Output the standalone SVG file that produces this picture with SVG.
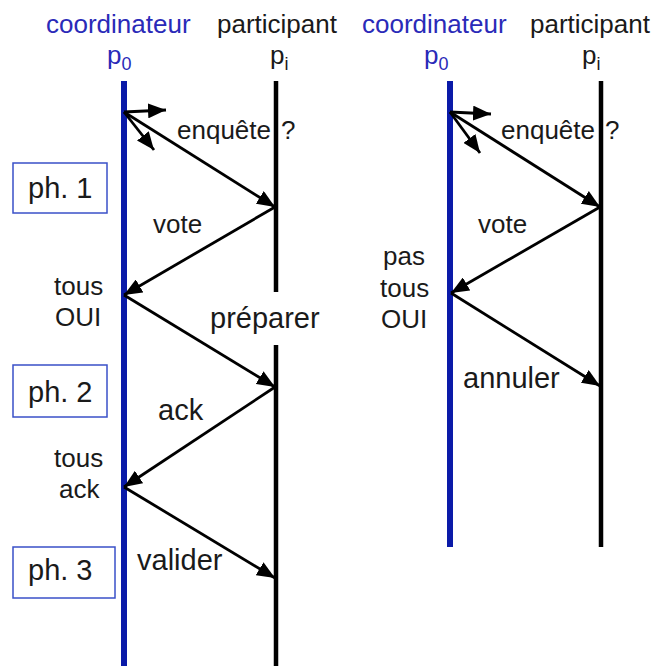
<svg xmlns="http://www.w3.org/2000/svg" width="656" height="666" viewBox="0 0 656 666">
<style>
text{font-family:"Liberation Sans",Arial,sans-serif;fill:#1a1a1a;font-size:26px}
.hd{fill:#2a2ab8}
.big{font-size:29px}
.sub{font-size:18px}
.blue{stroke:#0a1aa8;stroke-width:6;fill:none}
.blk{stroke:#000;stroke-width:4.5;fill:none}
.msg{stroke:#000;stroke-width:2.8;fill:none;marker-end:url(#ah)}
.box{fill:#fff;stroke:#3a50c8;stroke-width:1.5}
</style>
<defs>
<marker id="ah" markerUnits="userSpaceOnUse" markerWidth="19" markerHeight="15" refX="18" refY="7.5" orient="auto">
<path d="M0,0 L18,7.5 L0,15 z" fill="#000"/>
</marker>
</defs>
<rect width="656" height="666" fill="#fff"/>

<g id="left-coordinator">
<text class="hd" x="46" y="33">coordinateur</text>
<text class="hd" x="107" y="64">p<tspan class="sub" dy="6">0</tspan></text>
<line class="blue" x1="124" y1="81" x2="124" y2="666"/>
</g>
<g id="left-participant">
<text x="217" y="33">participant</text>
<text x="270" y="64">p<tspan class="sub" dy="6">i</tspan></text>
<line class="blk" x1="276" y1="81" x2="276" y2="292"/>
<line class="blk" x1="276" y1="345" x2="276" y2="666"/>
</g>
<g id="right-coordinator">
<text class="hd" x="362" y="33">coordinateur</text>
<text class="hd" x="424" y="64">p<tspan class="sub" dy="6">0</tspan></text>
<line class="blue" x1="450" y1="81" x2="450" y2="547"/>
</g>
<g id="right-participant">
<text x="530" y="33">participant</text>
<text x="582" y="64">p<tspan class="sub" dy="6">i</tspan></text>
<line class="blk" x1="601" y1="81" x2="601" y2="547"/>
</g>

<g id="phase1"><rect class="box" x="13" y="163" width="94" height="50"/><text class="big" x="28" y="198">ph. 1</text></g>
<g id="phase2"><rect class="box" x="13" y="365" width="94" height="52"/><text class="big" x="28" y="402">ph. 2</text></g>
<g id="phase3"><rect class="box" x="13" y="547" width="102" height="51"/><text class="big" x="28" y="580">ph. 3</text></g>

<g id="connectors">
<line class="msg" x1="124" y1="112" x2="166" y2="110"/>
<line class="msg" x1="124" y1="112" x2="154" y2="150"/>
<line class="msg" x1="124" y1="112" x2="275" y2="207"/>
<line class="msg" x1="275" y1="207" x2="124" y2="295"/>
<line class="msg" x1="124" y1="295" x2="275" y2="387"/>
<line class="msg" x1="275" y1="387" x2="124" y2="487"/>
<line class="msg" x1="124" y1="487" x2="275" y2="578"/>

<line class="msg" x1="450" y1="112" x2="491" y2="114"/>
<line class="msg" x1="450" y1="112" x2="480" y2="153"/>
<line class="msg" x1="450" y1="112" x2="600" y2="207"/>
<line class="msg" x1="600" y1="207" x2="451" y2="293"/>
<line class="msg" x1="451" y1="293" x2="600" y2="386"/>
</g>

<g id="labels">
<text x="177" y="139">enquête</text><text x="281" y="139">?</text>
<text x="153" y="233">vote</text>
<text x="54" y="295">tous</text>
<text x="55" y="326">OUI</text>
<text class="big" x="210" y="328">préparer</text>
<text class="big" x="158" y="420">ack</text>
<text x="54" y="467">tous</text>
<text x="59" y="498">ack</text>
<text class="big" x="137" y="570">valider</text>

<text x="501" y="139">enquête</text><text x="605" y="139">?</text>
<text x="478" y="233">vote</text>
<text x="383" y="265">pas</text>
<text x="380" y="297">tous</text>
<text x="381" y="328">OUI</text>
<text class="big" x="463" y="388">annuler</text>
</g>
</svg>
